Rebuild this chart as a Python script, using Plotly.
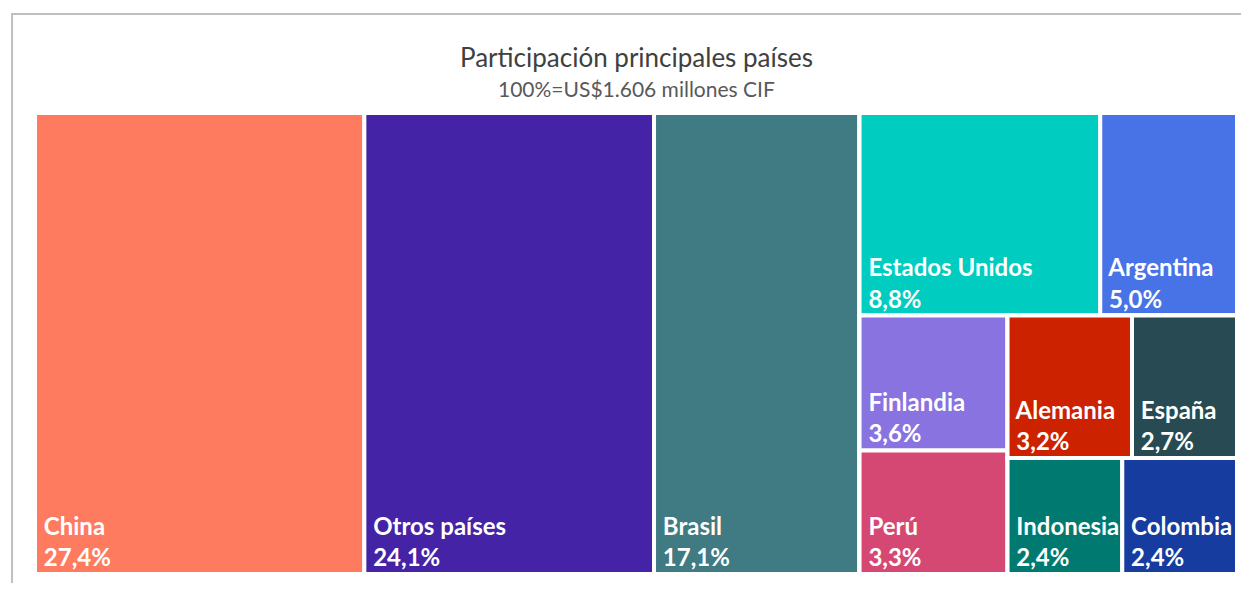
import plotly.graph_objects as go

# ── data ─────────────────────────────────────────────────────────────
# leaf countries (share of total, %)
countries = ["China", "Otros países", "Brasil", "Estados Unidos", "Argentina",
             "Finlandia", "Perú", "Alemania", "España", "Indonesia", "Colombia"]
shares = [27.4, 24.1, 17.1, 8.8, 5.0, 3.6, 3.3, 3.2, 2.7, 2.4, 2.4]
colors = ["#FF7B5F", "#4423A6", "#407A83", "#00CCBF", "#4873E6",
          "#8873E0", "#D54873", "#CC2200", "#284A52", "#007A70", "#163C9F"]

# parent of every country (groups only shape the slice-dice tiling)
country_parent = ["Total", "Total", "Total", "g_top", "g_top",
                  "g_finper", "g_finper", "g_aleesp", "g_aleesp", "g_indcol", "g_indcol"]

groups = ["Total", "g_right", "g_top", "g_bottom", "g_finper", "g_rest", "g_aleesp", "g_indcol"]
group_parent = ["", "Total", "g_right", "g_right", "g_bottom", "g_bottom", "g_rest", "g_rest"]

title = "Participación principales países"
subtitle = "100%=US$1.606 millones CIF"

# ── build treemap nodes ──────────────────────────────────────────────
# node order decides tile order with sort=False
order_ids = ["Total", "China", "Otros países", "Brasil", "g_right", "g_top", "g_bottom",
             "Estados Unidos", "Argentina", "g_finper", "g_rest", "Finlandia", "Perú",
             "g_aleesp", "g_indcol", "Alemania", "España", "Indonesia", "Colombia"]

leaf_tpl = "\u00a0%{label}<br>\u00a0%{value:.1f}%"

ids, parents, values, fill, templates, labels = [], [], [], [], [], []
for node in order_ids:
    ids.append(node)
    if node in countries:
        i = countries.index(node)
        parents.append(country_parent[i])
        values.append(shares[i])
        fill.append(colors[i])
        templates.append(leaf_tpl)
        labels.append(node)
    else:
        i = groups.index(node)
        parents.append(group_parent[i])
        values.append(0)
        fill.append("white")
        templates.append("")
        labels.append("")

fig = go.Figure(go.Treemap(
    ids=ids,
    labels=labels,
    parents=parents,
    values=values,
    branchvalues="remainder",
    sort=False,
    texttemplate=templates,
    textposition="bottom left",
    textfont=dict(family="Lato", size=24, color="white", weight="bold"),
    marker=dict(colors=fill, line=dict(color="white", width=4),
                pad=dict(t=0, l=0, r=0, b=0)),
    tiling=dict(packing="slice-dice", pad=0),
    pathbar=dict(visible=False),
    root=dict(color="white"),
    hoverinfo="label+value",
))

fig.update_layout(
    width=1233,
    height=575,
    margin=dict(l=27, r=4, t=105, b=9),
    separators=",.",
    paper_bgcolor="white",
    font=dict(family="Lato", color="#595959"),
    annotations=[
        dict(text=title, x=0.5, y=1.1215, xref="paper", yref="paper", showarrow=False,
             font=dict(size=26, color="#404040"), xanchor="center", yanchor="middle"),
        dict(text=subtitle, x=0.5, y=1.054, xref="paper", yref="paper", showarrow=False,
             font=dict(size=21, color="#595959"), xanchor="center", yanchor="middle"),
    ],
    shapes=[
        dict(type="rect", xref="paper", yref="paper", x0=-0.0191, y0=-0.2, x1=1.05, y1=1.2148,
             line=dict(color="#BFBFBF", width=2)),
    ],
)

fig.write_html("out.html")
